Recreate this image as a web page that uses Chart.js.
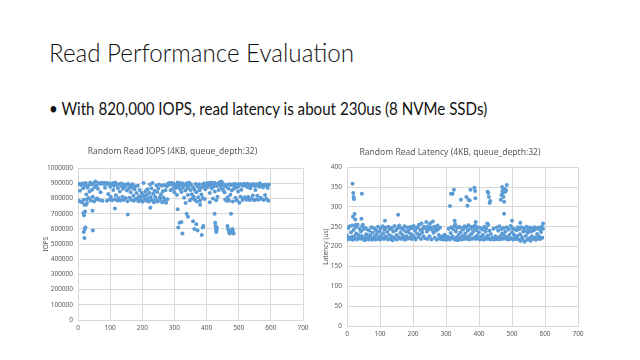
<!DOCTYPE html>
<html>
<head>
<meta charset="utf-8">
<script src="https://cdn.jsdelivr.net/npm/chart.js@4.4.1/dist/chart.umd.min.js"></script>
<style>
  body { margin: 0; background: #fff; width: 640px; height: 360px; overflow: hidden; position: relative; font-family: Lato, "Open Sans", sans-serif; }
  #titulo { position: absolute; left: 49px; top: 39px; font-size: 26px; font-weight: 300; color: #111; line-height: 1; white-space: nowrap; transform: scaleX(0.93); transform-origin: left top; }
  #bullet { position: absolute; left: 49px; top: 99px; font-size: 18px; color: #111; line-height: 1; white-space: nowrap; transform: scaleX(0.84); transform-origin: left top; }
  canvas { position: absolute; }
  #iopsChart { left: 0; top: 135px; }
  #latChart { left: 320px; top: 138px; }
</style>
</head>
<body>
<div id="titulo">Read Performance Evaluation</div>
<div id="bullet">• With 820,000 IOPS, read latency is about 230us (8 NVMe SSDs)</div>
<canvas id="iopsChart" width="320" height="210"></canvas>
<canvas id="latChart" width="320" height="210"></canvas>
<script>
// samples taken every 2 seconds (x = index * 2)
const X_STEP = 2;

// IOPS in thousands
const iopsK = [
  893, 786, 897, 852, 781, 890, 775, 899, 868, 792, 760, 884, 902, 827, 795, 871, 888, 803, 846, 905,
  787, 893, 858, 812, 899, 781, 874, 912, 796, 885, 801, 864, 903, 790, 897, 842, 899, 903, 786, 897,
  902, 899, 871, 898, 903, 785, 896, 830, 901, 794, 877, 812, 890, 789, 901, 856, 884, 795, 905, 821,
  892, 787, 869, 803, 896, 846, 788, 882, 899, 812, 865, 791, 893, 877, 804, 889, 853, 782, 898, 867,
  806, 885, 842, 791, 873, 895, 819, 786, 862, 881, 798, 837, 802, 884, 783, 815, 856, 792, 809, 836,
  779, 827, 903, 812, 794, 848, 785, 823, 862, 800, 781, 838, 893, 811, 868, 789, 902, 832, 776, 851,
  812, 795, 886, 843, 781, 867, 893, 808, 792, 828, 884, 776, 848, 807, 890, 789, 854, 773, 879, 795,
  898, 889, 903, 894, 855, 899, 902, 863, 889, 897, 841, 888, 869, 891, 824, 905, 876, 882, 903, 860,
  895, 843, 901, 872, 894, 806, 887, 853, 892, 901, 867, 823, 879, 904, 788, 856, 893, 828, 801, 874,
  812, 858, 790, 896, 842, 781, 877, 808, 895, 855, 786, 869, 827, 892, 803, 880, 899, 797, 861, 884,
  893, 901, 876, 902, 898, 837, 888, 905, 867, 892, 801, 879, 904, 846, 897, 789, 883, 812, 900, 857,
  907, 884, 896, 912, 868, 901, 853, 889, 842, 794, 878, 785, 893, 808, 866, 785, 894, 825, 889, 853,
  892, 781, 863, 887, 898, 805, 872, 789, 893, 846, 881, 772, 896, 812, 858, 893, 791, 884, 803, 897,
  808, 889, 792, 876, 898, 811, 885, 791, 868, 894, 799, 887, 820, 896, 789, 882, 856, 793, 894, 818,
  885, 792, 878, 901, 806, 891, 797, 887, 873, 791, 889, 824, 892, 798, 884, 870, 785, 892
];

// dips below the main band: [time, IOPS in thousands]
const iopsDips = [
  [17, 705], [19, 690], [22, 715], [25, 760], [18, 580], [21, 600], [20, 540], [23, 610],
  [46, 590], [45, 720], [28, 770], [115, 735], [155, 695], [225, 740], [310, 730], [312, 610],
  [316, 640], [322, 645], [325, 570], [338, 700], [342, 680], [358, 650], [362, 600], [368, 630],
  [372, 590], [385, 560], [388, 610], [390, 620], [425, 700], [427, 640], [428, 620], [429, 600],
  [430, 580], [431, 590], [432, 610], [465, 620], [467, 600], [469, 590], [470, 580], [472, 570],
  [474, 575], [476, 580], [478, 585], [480, 600], [482, 590], [484, 570], [476, 700], [380, 760],
  [410, 775], [335, 770]
];

// latency in us
const latUs = [
  228, 218, 247, 222, 251, 219, 236, 224, 253, 217, 242, 226, 221, 249, 233, 218, 255, 229, 223, 245,
  220, 238, 227, 252, 219, 244, 223, 216, 247, 231, 220, 243, 225, 218, 240, 229, 222, 249, 217, 235,
  221, 246, 226, 218, 241, 232, 219, 250, 224, 238, 218, 245, 229, 221, 251, 234, 219, 243, 226, 248,
  222, 237, 218, 250, 229, 244, 219, 226, 247, 216, 238, 223, 252, 220, 241, 229, 218, 246, 224, 253,
  221, 235, 246, 219, 229, 243, 224, 251, 217, 238, 226, 248, 220, 236, 244, 222, 250, 231, 219, 246,
  228, 252, 223, 240, 218, 247, 233, 249, 224, 255, 230, 242, 219, 258, 236, 245, 226, 250, 221, 247,
  262, 238, 219, 251, 244, 226, 259, 248, 218, 242, 263, 235, 250, 222, 246, 240, 217, 253, 244, 229,
  221, 248, 219, 220, 226, 218, 223, 219, 230, 221, 217, 225, 219, 224, 245, 221, 218, 234, 249, 222,
  226, 244, 219, 252, 217, 238, 223, 247, 216, 229, 250, 221, 236, 218, 246, 227, 243, 219, 251, 233,
  224, 248, 219, 240, 254, 226, 218, 245, 231, 250, 220, 237, 246, 223, 253, 219, 241, 228, 249, 221,
  236, 218, 247, 225, 219, 243, 230, 217, 250, 222, 238, 246, 219, 228, 255, 221, 240, 218, 232, 220,
  219, 223, 245, 218, 221, 226, 219, 248, 222, 240, 218, 251, 226, 219, 244, 233, 220, 247, 229, 223,
  238, 220, 249, 224, 218, 243, 229, 219, 252, 221, 236, 246, 218, 230, 244, 222, 219, 241, 226, 249,
  218, 244, 231, 214, 249, 224, 219, 238, 246, 212, 240, 227, 250, 217, 235, 244, 221, 248, 215, 238,
  226, 246, 219, 241, 249, 223, 217, 245, 232, 220, 248, 226, 243, 219, 237, 250, 222, 245
];

// latency spikes: [time, us]
const latSpikes = [
  [17, 358], [19, 335], [20, 325], [21, 320], [18, 275], [23, 282], [25, 268], [27, 255],
  [45, 333], [44, 270], [48, 255], [115, 265], [155, 280], [312, 302], [315, 333], [320, 333],
  [324, 343], [326, 265], [328, 256], [345, 318], [362, 325], [365, 303], [368, 318], [372, 316],
  [374, 343], [386, 348], [388, 340], [389, 322], [426, 338], [428, 335], [430, 325], [432, 310],
  [434, 315], [466, 318], [468, 330], [470, 350], [471, 340], [472, 335], [474, 325], [476, 313],
  [478, 345], [480, 338], [482, 342], [484, 355], [476, 283], [500, 265], [525, 260], [594, 258],
  [390, 262], [425, 258]
];

const xTicksMax = 700;
const iopsMax = 1000000;
const latMax = 400;

const COLOR = '#5b9bd5';
const GRID = '#d9d9d9';
const TXT = '#595959';
const FONT = '"Noto Sans", sans-serif';

function puntos(valores, extra, escala) {
  const pts = valores.map((v, i) => ({ x: i * X_STEP, y: v * escala }));
  extra.forEach(p => pts.push({ x: p[0], y: p[1] * escala }));
  return pts;
}

function grafica(id, titulo, ejeY, datos, maxY, paso, pad, anchoY, padTitulo) {
  const ctx = document.getElementById(id).getContext('2d');
  return new Chart(ctx, {
    type: 'scatter',
    data: {
      datasets: [{
        data: datos,
        backgroundColor: COLOR,
        borderColor: COLOR,
        pointRadius: 2,
        pointBorderWidth: 0
      }]
    },
    options: {
      responsive: false,
      animation: false,
      layout: { padding: pad },
      plugins: {
        legend: { display: false },
        tooltip: { enabled: false },
        title: {
          display: true,
          text: titulo,
          color: TXT,
          font: { family: FONT, size: 8.5, weight: 'normal' },
          padding: padTitulo
        }
      },
      scales: {
        x: {
          type: 'linear',
          min: 0,
          max: xTicksMax,
          ticks: { stepSize: 100, color: TXT, font: { family: FONT, size: 6.5 }, padding: 4, maxRotation: 0 },
          grid: { color: GRID, drawTicks: false },
          border: { color: GRID },
          afterFit: s => { s.height = 22; }
        },
        y: {
          min: 0,
          max: maxY,
          ticks: { stepSize: paso, color: TXT, font: { family: FONT, size: 6.5 }, padding: 5, callback: v => String(v) },
          grid: { color: GRID, drawTicks: false },
          border: { color: GRID },
          title: { display: true, text: ejeY, color: TXT, font: { family: FONT, size: 6.5 }, padding: 0 },
          afterFit: s => { s.width = anchoY; }
        }
      }
    }
  });
}

grafica('iopsChart', 'Random Read IOPS (4KB, queue_depth:32)', 'IOPS',
  puntos(iopsK, iopsDips, 1000), iopsMax, 100000, { left: 42, right: 17, top: 0, bottom: 3 }, 36,
  { top: 11, bottom: 12 });

grafica('latChart', 'Random Read Latency (4KB, queue_depth:32)', 'Latency (us)',
  puntos(latUs, latSpikes, 1), latMax, 50, { left: 2, right: 62, top: 0, bottom: 0 }, 25,
  { top: 9, bottom: 10 });
</script>
</body>
</html>
